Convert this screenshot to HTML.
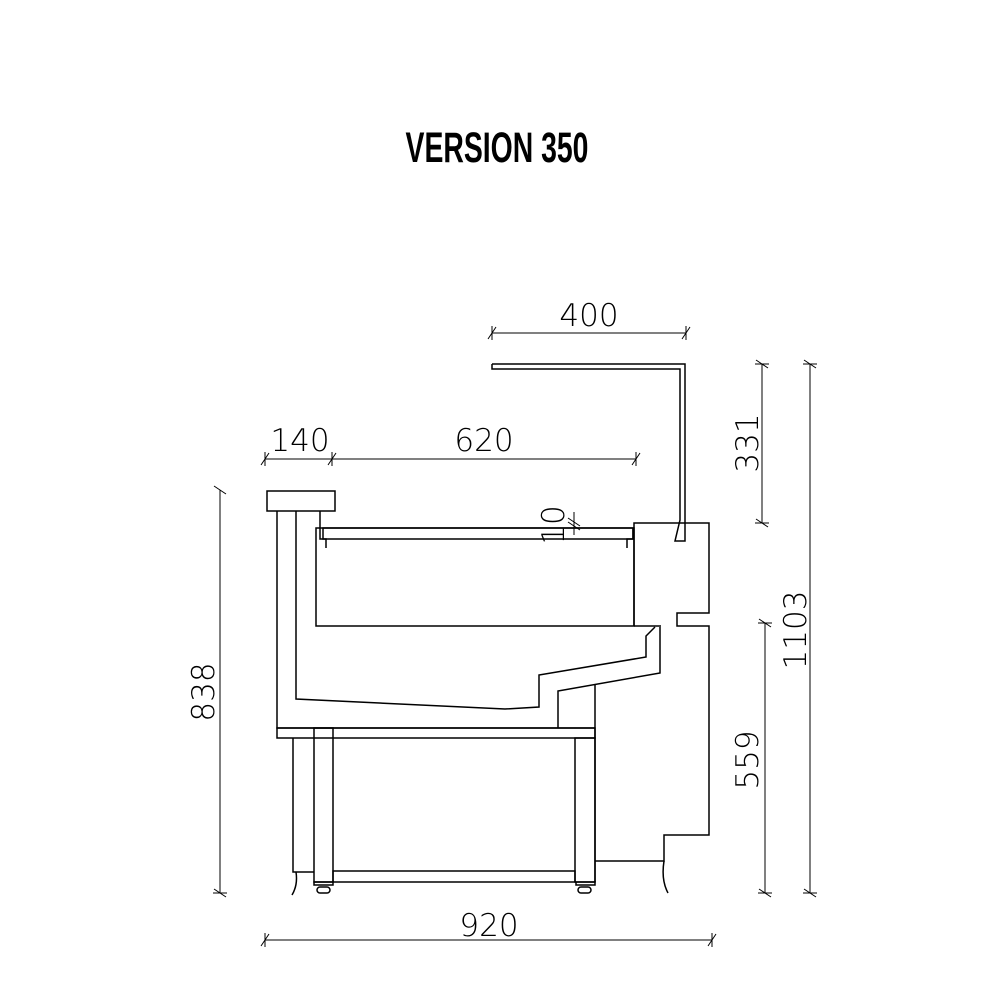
<!DOCTYPE html>
<html><head><meta charset="utf-8"><style>
html,body{margin:0;padding:0;background:#fff;width:1000px;height:1000px;overflow:hidden}
</style></head><body>
<svg width="1000" height="1000" viewBox="0 0 1000 1000" xmlns="http://www.w3.org/2000/svg">
<rect width="1000" height="1000" fill="#fff"/>
<text x="497" y="162" text-anchor="middle" font-family="Liberation Sans, sans-serif" font-weight="bold" font-size="43" transform="translate(497 0) scale(0.66 1) translate(-497 0)" fill="#000">VERSION 350</text>
<g fill="none" stroke="#000" stroke-width="1.5">
<rect x="267" y="491" width="68" height="20"/>
<polyline points="277,511 277,728 595,728"/>
<polyline points="296,511 296,699 505,709 539,707 539,675 646,657 646,636 655,627"/>
<polyline points="660,627 660,673 558,691 558,728"/>
<line x1="595" y1="685" x2="595" y2="882"/>
<line x1="320" y1="511" x2="320" y2="528"/>
<rect x="316" y="528" width="318" height="98"/>
<rect x="323" y="528" width="310" height="11"/>
<polyline points="320,528 320,539 326,539 326,548"/>
<polyline points="633,528 633,539 627,539 627,548"/>
<polyline points="634,626 634,523 709,523 709,613 677,613 677,626 709,626 709,835 664,835 664,861 595,861"/>
<polyline points="634,626 661,626"/>
<polyline points="492,364 685,364 685,541 675,541 680,520 680,369 492,369 492,364"/>
<rect x="277" y="728" width="318" height="10"/>
<polyline points="293,738 293,872 314,872"/>
<rect x="314" y="728" width="19" height="154"/>
<rect x="575" y="738" width="20" height="144"/>
<rect x="333" y="871" width="242" height="11"/>
<rect x="314" y="882" width="19" height="3"/>
<rect x="576" y="882" width="19" height="3"/>
<rect x="317" y="887" width="13" height="6" rx="3"/>
<rect x="578" y="887" width="13" height="6" rx="3"/>
<path d="M296 872 Q298 885 292 895"/>
<path d="M664 861 Q661 880 668 893"/>
</g>
<g stroke="#000" stroke-width="1" fill="none">
<line x1="492" y1="333" x2="686" y2="333"/>
<line x1="488" y1="339" x2="496" y2="327"/><line x1="682" y1="339" x2="690" y2="327"/>
<line x1="492" y1="326" x2="492" y2="340"/><line x1="686" y1="326" x2="686" y2="340"/>
<line x1="265" y1="459" x2="636" y2="459"/>
<line x1="261" y1="465" x2="269" y2="453"/><line x1="328" y1="465" x2="336" y2="453"/><line x1="632" y1="465" x2="640" y2="453"/>
<line x1="265" y1="452" x2="265" y2="466"/><line x1="332" y1="452" x2="332" y2="466"/><line x1="636" y1="452" x2="636" y2="466"/>
<line x1="762" y1="364" x2="762" y2="523"/>
<line x1="756" y1="360" x2="768" y2="368"/><line x1="756" y1="519" x2="768" y2="527"/>
<line x1="755" y1="364" x2="769" y2="364"/><line x1="755" y1="523" x2="769" y2="523"/>
<line x1="810" y1="364" x2="810" y2="893"/>
<line x1="804" y1="360" x2="816" y2="368"/><line x1="804" y1="889" x2="816" y2="897"/>
<line x1="803" y1="364" x2="817" y2="364"/><line x1="803" y1="893" x2="817" y2="893"/>
<line x1="765" y1="623" x2="765" y2="893"/>
<line x1="759" y1="619" x2="771" y2="627"/><line x1="759" y1="889" x2="771" y2="897"/>
<line x1="758" y1="623" x2="772" y2="623"/><line x1="758" y1="893" x2="772" y2="893"/>
<line x1="220" y1="490" x2="220" y2="893"/>
<line x1="214" y1="486" x2="226" y2="494"/><line x1="214" y1="889" x2="226" y2="897"/>
<line x1="213" y1="893" x2="227" y2="893"/>
<line x1="265" y1="940" x2="712" y2="940"/>
<line x1="261" y1="946" x2="269" y2="934"/><line x1="708" y1="946" x2="716" y2="934"/>
<line x1="265" y1="933" x2="265" y2="947"/><line x1="712" y1="933" x2="712" y2="947"/>
<line x1="574" y1="512" x2="574" y2="535"/>
<line x1="568" y1="518" x2="580" y2="526"/><line x1="568" y1="522" x2="580" y2="530"/>
</g>
<g font-family="DejaVu Sans, Liberation Sans, sans-serif" font-size="31" fill="#000" text-anchor="middle" font-weight="200">
<text x="589" y="326">400</text>
<text x="300" y="451">140</text>
<text x="484" y="451">620</text>
<text x="489" y="936">920</text>
<text transform="translate(758 443) rotate(-90)">331</text>
<text transform="translate(806 630) rotate(-90)">1103</text>
<text transform="translate(758 760) rotate(-90)">559</text>
<text transform="translate(214 692) rotate(-90)">838</text>
<text transform="translate(564 525) rotate(-90)">10</text>
</g>
</svg>
</body></html>
